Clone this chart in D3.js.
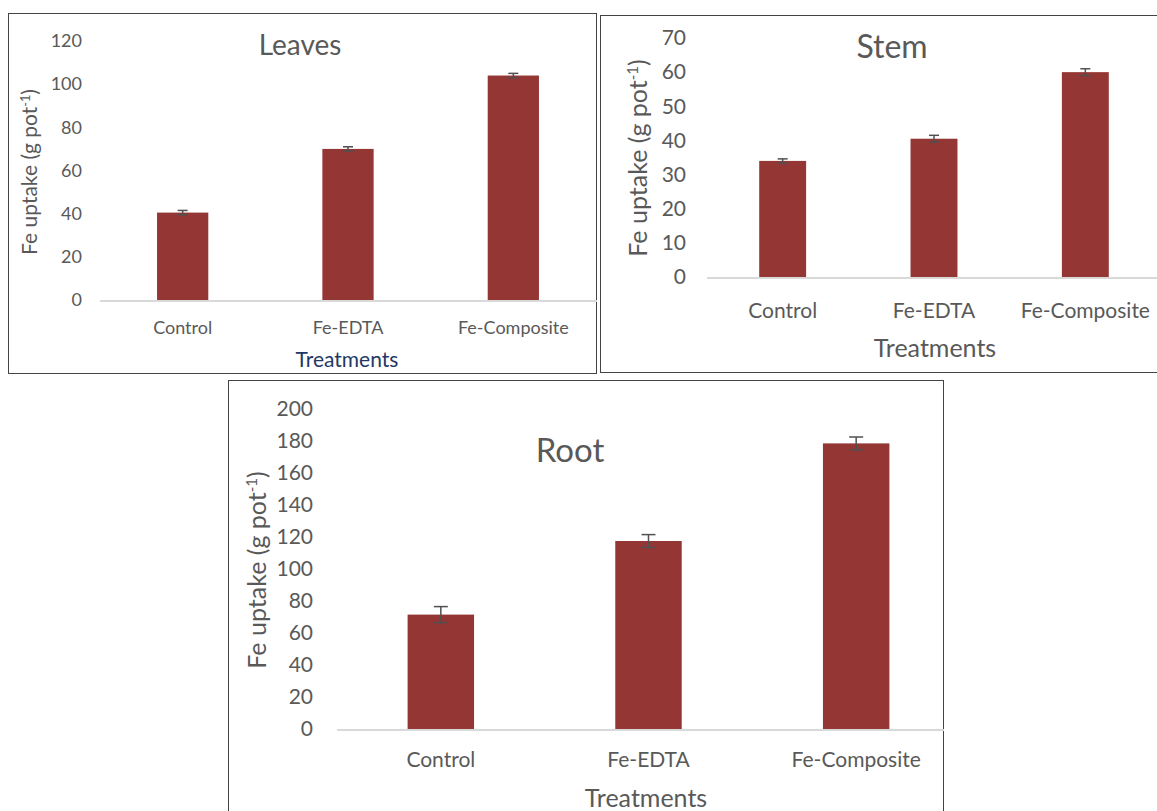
<!DOCTYPE html>
<html>
<head>
<meta charset="utf-8">
<script src="https://cdn.jsdelivr.net/npm/d3@7"></script>
<style>
  body { margin: 0; background: #fff; }
  svg { display: block; }
  text { font-family: Lato, "Open Sans", sans-serif; }
</style>
</head>
<body>
<div id="chart"></div>
<script>
// categories and values
var categories = ["Control", "Fe-EDTA", "Fe-Composite"];

var leavesValues = [40.5, 70, 104];
var leavesErrors = [1, 1, 1];
var leavesTicks = [0, 20, 40, 60, 80, 100, 120];

var stemValues = [34, 40.5, 60];
var stemErrors = [0.6, 1, 1];
var stemTicks = [0, 10, 20, 30, 40, 50, 60, 70];

var rootValues = [71.5, 117.5, 178.5];
var rootErrors = [5, 4, 4];
var rootTicks = [0, 20, 40, 60, 80, 100, 120, 140, 160, 180, 200];

var svg = d3.select("#chart")
  .append("svg")
  .attr("width", 1157)
  .attr("height", 811);

// one panel = frame + axes + bars + error bars
function drawPanel(p) {
  var g = svg.append("g");

  var clipId = "clip-" + p.name;
  svg.append("clipPath").attr("id", clipId)
    .append("rect")
    .attr("x", p.frame[0]).attr("y", p.frame[1])
    .attr("width", p.frame[2] - p.frame[0]).attr("height", p.frame[3] - p.frame[1]);
  g.attr("clip-path", "url(#" + clipId + ")");

  g.append("rect")
    .attr("x", p.frame[0] + 0.5).attr("y", p.frame[1] + 0.5)
    .attr("width", p.frame[2] - p.frame[0] - 1).attr("height", p.frame[3] - p.frame[1] - 1)
    .attr("fill", "#fff")
    .attr("stroke", "#444")
    .attr("stroke-width", 1);

  var x = d3.scaleBand()
    .domain(categories)
    .range([p.left, p.right])
    .paddingInner(p.pad)
    .paddingOuter(p.pad / 2);

  var y = d3.scaleLinear()
    .domain([0, d3.max(p.ticks)])
    .range([p.bottom, p.top]);

  // y axis: labels only
  var yAxis = g.append("g")
    .attr("transform", `translate(${p.labelX}, 0)`)
    .call(d3.axisLeft(y).tickValues(p.ticks).tickSize(0).tickPadding(0));
  yAxis.select(".domain").remove();
  yAxis.selectAll("text")
    .attr("font-size", p.tickSize + "px")
    .attr("fill", "#595959")
    .style("font-family", "Lato, 'Open Sans', sans-serif");

  // baseline
  g.append("line")
    .attr("x1", p.left).attr("x2", p.right + 40)
    .attr("y1", y(0) + 1).attr("y2", y(0) + 1)
    .attr("stroke", "#d9d9d9")
    .attr("stroke-width", 2);

  // x axis labels
  var xAxis = g.append("g")
    .attr("transform", `translate(0, ${p.xLabelY})`)
    .call(d3.axisBottom(x).tickSize(0).tickPadding(0));
  xAxis.select(".domain").remove();
  xAxis.selectAll("text")
    .attr("dy", null)
    .attr("y", 0)
    .attr("font-size", p.xSize + "px")
    .attr("fill", "#595959")
    .style("font-family", "Lato, 'Open Sans', sans-serif");

  var rows = categories.map(function(c, i) {
    return { cat: c, value: p.values[i], err: p.errors[i] };
  });

  g.selectAll(".bar")
    .data(rows)
    .enter()
    .append("rect")
    .attr("x", d => x(d.cat))
    .attr("y", d => y(d.value))
    .attr("width", x.bandwidth())
    .attr("height", d => y(0) - y(d.value))
    .attr("fill", "#943634");

  var eb = g.selectAll(".err")
    .data(rows)
    .enter()
    .append("g")
    .attr("stroke", "#505050")
    .attr("stroke-width", 1.5);
  eb.append("line")
    .attr("x1", d => x(d.cat) + x.bandwidth() / 2)
    .attr("x2", d => x(d.cat) + x.bandwidth() / 2)
    .attr("y1", d => y(d.value + d.err))
    .attr("y2", d => y(d.value - d.err));
  [1, -1].forEach(function(s) {
    eb.append("line")
      .attr("x1", d => x(d.cat) + x.bandwidth() / 2 - p.cap)
      .attr("x2", d => x(d.cat) + x.bandwidth() / 2 + p.cap)
      .attr("y1", d => y(d.value + s * d.err))
      .attr("y2", d => y(d.value + s * d.err));
  });

  // title
  g.append("text")
    .attr("x", p.titleX).attr("y", p.titleY)
    .attr("text-anchor", "middle")
    .attr("font-size", p.titleSize + "px")
    .attr("fill", "#595959")
    .text(p.title);

  // x title
  g.append("text")
    .attr("x", p.xTitleX).attr("y", p.xTitleY)
    .attr("text-anchor", "middle")
    .attr("font-size", p.xTitleSize + "px")
    .attr("fill", p.xTitleColor)
    .text("Treatments");

  // y title
  var yt = g.append("text")
    .attr("transform", `translate(${p.yTitleX}, ${p.yTitleY}) rotate(-90)`)
    .attr("text-anchor", "middle")
    .attr("font-size", p.yTitleSize + "px")
    .attr("fill", "#595959");
  yt.append("tspan").text("Fe uptake (g pot");
  yt.append("tspan").attr("dy", -p.yTitleSize * 0.35).attr("font-size", (p.yTitleSize * 0.6) + "px").text("-1");
  yt.append("tspan").attr("dy", p.yTitleSize * 0.35).text(")");
}

drawPanel({
  name: "leaves", title: "Leaves",
  values: leavesValues, errors: leavesErrors, ticks: leavesTicks,
  frame: [8, 13, 597, 374],
  left: 100, right: 596, top: 41, bottom: 300, pad: 0.69,
  labelX: 82, tickSize: 18, xSize: 18, xLabelY: 334, cap: 5,
  titleX: 300, titleY: 55, titleSize: 28,
  xTitleX: 347, xTitleY: 367, xTitleSize: 21, xTitleColor: "#1f3864",
  yTitleX: 37, yTitleY: 172, yTitleSize: 21
});

drawPanel({
  name: "stem", title: "Stem",
  values: stemValues, errors: stemErrors, ticks: stemTicks,
  frame: [600, 15, 1162, 373],
  left: 707, right: 1161, top: 38, bottom: 277, pad: 0.69,
  labelX: 686, tickSize: 21, xSize: 21, xLabelY: 318, cap: 5,
  titleX: 892, titleY: 58, titleSize: 32,
  xTitleX: 935, xTitleY: 357, xTitleSize: 25, xTitleColor: "#595959",
  yTitleX: 647, yTitleY: 158, yTitleSize: 25
});

drawPanel({
  name: "root", title: "Root",
  values: rootValues, errors: rootErrors, ticks: rootTicks,
  frame: [228, 380, 944, 820],
  left: 337, right: 960, top: 409, bottom: 729, pad: 0.68,
  labelX: 313, tickSize: 21, xSize: 21, xLabelY: 767, cap: 7,
  titleX: 570, titleY: 462, titleSize: 33,
  xTitleX: 646, xTitleY: 807, xTitleSize: 25, xTitleColor: "#595959",
  yTitleX: 266, yTitleY: 570, yTitleSize: 25
});
</script>
</body>
</html>
